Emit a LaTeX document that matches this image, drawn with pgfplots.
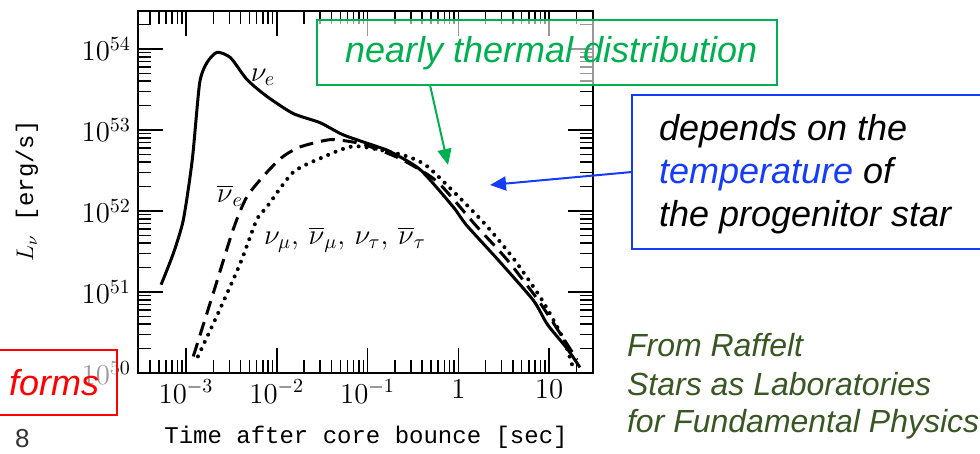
\documentclass[border=0pt]{standalone}
\usepackage{fontspec}
\usepackage{pgfplots}
\pgfplotsset{compat=1.18}
\usetikzlibrary{arrows.meta}
\newfontfamily\annot{Liberation Sans}
\newfontfamily\mono{Liberation Mono}
\definecolor{boxgreen}{RGB}{0,176,80}
\definecolor{boxblue}{RGB}{20,60,250}
\definecolor{refgreen}{RGB}{56,87,35}

\begin{document}
\begin{tikzpicture}[x=0.5pt,y=-0.5pt]
\useasboundingbox (0,0) rectangle (980,454);
\begin{axis}[
  at={(69pt,-186.5pt)}, anchor=south west,
  scale only axis, width=227.5pt, height=181pt,
  xmode=log, ymode=log,
  xmin=2.95e-4, xmax=30.5, ymin=1e50, ymax=2.95e54,
  axis line style={line width=1pt},
  tick align=inside, xtick pos=both, ytick pos=both,
  major tick length=12.5pt, minor tick length=6.5pt,
  every tick/.style={black,line width=0.75pt},
  xtick={1e-3,1e-2,1e-1,1,10},
  xticklabels={$10^{-3}$,$10^{-2}$,$10^{-1}$,$1$,$10$},
  minor xtick={3e-4,4e-4,5e-4,6e-4,7e-4,8e-4,9e-4,
    2e-3,3e-3,4e-3,5e-3,6e-3,7e-3,8e-3,9e-3,
    2e-2,3e-2,4e-2,5e-2,6e-2,7e-2,8e-2,9e-2,
    0.2,0.3,0.4,0.5,0.6,0.7,0.8,0.9,
    2,3,4,5,6,7,8,9,20,30},
  ytick={1e50,1e51,1e52,1e53,1e54},
  yticklabels={$10^{50}$,$10^{51}$,$10^{52}$,$10^{53}$,$10^{54}$},
  minor ytick={2e50,3e50,4e50,5e50,6e50,7e50,8e50,9e50,
    2e51,3e51,4e51,5e51,6e51,7e51,8e51,9e51,
    2e52,3e52,4e52,5e52,6e52,7e52,8e52,9e52,
    2e53,3e53,4e53,5e53,6e53,7e53,8e53,9e53,2e54},
  tick label style={font=\fontsize{14}{16}\selectfont},
]
% nu_e
\addplot[black,line width=1.5pt,smooth,tension=0.4] coordinates {
  (5.30e-4,1.23e51) (7.24e-4,3.0e51) (9.33e-4,7.8e51) (1.17e-3,4.3e52)
  (1.41e-3,3.8e53) (1.70e-3,6.8e53) (2.19e-3,9.1e53) (3.09e-3,7.8e53)
  (4.68e-3,4.2e53) (7.76e-3,2.6e53) (1.51e-2,1.6e53) (3.0e-2,1.23e53)
  (5.4e-2,8.7e52) (0.129,6.2e52) (0.178,5.4e52) (0.38,3.24e52)
  (0.879,1.12e52) (1.22,6.76e51) (2.75,2.48e51) (6.70,7.9e50)
  (9.55,4.0e50) (15.8,2.0e50) (21.9,1.17e50)
};
% anti nu_e
\addplot[black,line width=1.5pt,smooth,tension=0.4,dash pattern=on 7pt off 4pt] coordinates {
  (1.20e-3,1.6e50) (2.0e-3,9.8e50) (3.3e-3,5.9e51) (4.68e-3,1.5e52)
  (7.76e-3,3.0e52) (1.17e-2,4.7e52) (1.82e-2,6.2e52) (3.9e-2,7.6e52)
  (7.9e-2,6.9e52) (0.138,5.6e52) (0.25,4.2e52) (0.589,2.29e52)
  (1.535,6.76e51) (3.47,2.48e51) (7.59,7.9e50) (13.2,3.1e50)
  (20.4,1.45e50)
};
% nu_mu, nu_tau and antiparticles
\addplot[black,line width=2pt,smooth,tension=0.4,line cap=round,dash pattern=on 0pt off 4pt] coordinates {
  (1.35e-3,1.6e50) (2.34e-3,6.0e50) (3.98e-3,2.3e51) (6.0e-3,7.8e51)
  (7.76e-3,1.12e52) (1.51e-2,3.0e52) (3.2e-2,4.6e52) (7.2e-2,6.3e52)
  (0.23,5.0e52) (0.431,3.72e52) (0.879,1.75e52) (2.0,6.76e51)
  (4.17,2.48e51) (8.41,7.9e50) (14.5,2.57e50) (18.6,1.1e50)
};
\end{axis}

% curve labels
\node[font=\fontsize{14}{16}\selectfont] at (263,77) {$\nu_e$};
\node[font=\fontsize{14}{16}\selectfont] at (230,196) {$\overline{\nu}_e$};
\node[font=\fontsize{14}{16}\selectfont] at (345,240)
  {$\nu_\mu,\,\overline{\nu}_\mu,\,\nu_\tau,\,\overline{\nu}_\tau$};

% axis labels
\node[font=\mono\fontsize{12}{14}\selectfont,anchor=base] at (366,443)
  {Time after core bounce [sec]};
\node[font=\mono\fontsize{12}{14}\selectfont,rotate=90] at (27,191)
  {$L_\nu$ [erg/s]};

% green annotation
\filldraw[draw=boxgreen,fill=white,fill opacity=0.6,line width=1pt] (317,20) rectangle (777,85);
\node[font=\annot\itshape\fontsize{18}{21}\selectfont,text=boxgreen,anchor=base west]
  at (338,63) {nearly thermal distribution};
\draw[boxgreen,line width=1pt,-{Triangle[length=8pt,width=7pt]}] (430,85) -- (448,165);

% blue annotation
\draw[boxblue,line width=1pt] (632,95) rectangle (990,249);
\draw[boxblue,line width=1pt,-{Triangle[length=8pt,width=7pt]}] (632,172) -- (490,185);
\begin{scope}[font=\annot\itshape\fontsize{18}{21}\selectfont]
\node[anchor=base west] at (652,141) {depends on the};
\node[anchor=base west] at (652,184) {\textcolor{boxblue}{temperature} of};
\node[anchor=base west] at (652,227) {the progenitor star};
\end{scope}

% source
\begin{scope}[font=\annot\itshape\fontsize{16}{19}\selectfont,text=refgreen]
\node[anchor=base west] at (620,357) {From Raffelt};
\node[anchor=base west] at (620,395) {Stars as Laboratories};
\node[anchor=base west] at (620,432) {for Fundamental Physics};
\end{scope}

% red box and page number
\filldraw[draw=red,fill=white,fill opacity=0.6,line width=1pt] (-10,350) rectangle (117,415);
\node[font=\annot\itshape\fontsize{18}{21}\selectfont,text=red,anchor=base west] at (2,395) {forms};
\node[font=\annot\fontsize{13}{15}\selectfont,text=black!80,anchor=base west] at (8,447) {8};
\end{tikzpicture}
\end{document}
